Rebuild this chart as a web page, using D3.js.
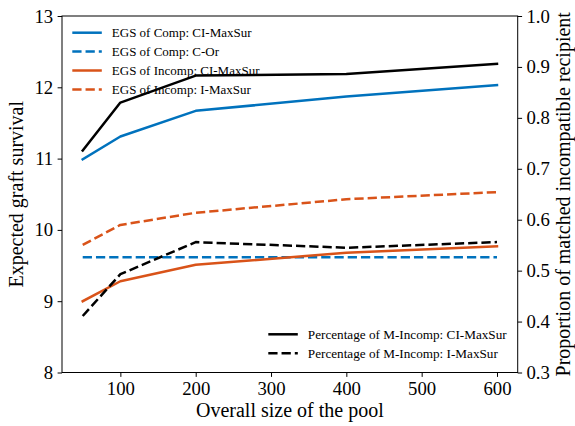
<!DOCTYPE html>
<html>
<head>
<meta charset="utf-8">
<script src="https://cdn.jsdelivr.net/npm/d3@7"></script>
<style>
  html, body { margin: 0; padding: 0; background: #fff; }
  svg { display: block; }
  svg text { font-family: "Liberation Serif", "Times New Roman", serif; }
</style>
</head>
<body>
<svg id="chart" width="575" height="426"></svg>
<script>
// Pool sizes on the x axis
const poolSizes = [50, 100, 200, 400, 600];

// Expected graft survival (left axis)
const egsCompCI = [10.99, 11.31, 11.67, 11.87, 12.03];
const egsCompCOr = [9.615, 9.615, 9.615, 9.615, 9.615];
const egsIncompCI = [9.00, 9.28, 9.51, 9.68, 9.77];
const egsIncompI = [9.79, 10.07, 10.24, 10.43, 10.53];

// Proportion of matched incompatible recipients (right axis)
const pctIncompCI = [0.736, 0.830, 0.883, 0.886, 0.906];
const pctIncompI = [0.411, 0.493, 0.556, 0.545, 0.556];

const xTicks = [100, 200, 300, 400, 500, 600];
const yLeftTicks = [8, 9, 10, 11, 12, 13];
const yRightTicks = [0.3, 0.4, 0.5, 0.6, 0.7, 0.8, 0.9, 1.0];

const BLUE = "#0072BD";
const ORANGE = "#D95319";
const BLACK = "#000000";
const FONT = "Liberation Serif";

const svg = d3.select("#chart");
const m = { left: 62, right: 517.7, top: 16, bottom: 372.5 };

const x = d3.scaleLinear().domain([22.5, 627.5]).range([m.left, m.right]);
const yL = d3.scaleLinear().domain([8, 13]).range([m.bottom, m.top]);
const yR = d3.scaleLinear().domain([0.3, 1.0]).range([m.bottom, m.top]);

const seriesLeft = [
  { name: "EGS of Comp: CI-MaxSur", values: egsCompCI, color: BLUE, dash: null },
  { name: "EGS of Comp: C-Or", values: egsCompCOr, color: BLUE, dash: "9.25,4" },
  { name: "EGS of Incomp: CI-MaxSur", values: egsIncompCI, color: ORANGE, dash: null },
  { name: "EGS of Incomp: I-MaxSur", values: egsIncompI, color: ORANGE, dash: "9.25,4" }
];
const seriesRight = [
  { name: "Percentage of M-Incomp: CI-MaxSur", values: pctIncompCI, color: BLACK, dash: null },
  { name: "Percentage of M-Incomp: I-MaxSur", values: pctIncompI, color: BLACK, dash: "9.25,4" }
];

const LW = 2.5;

function drawLines(series, yScale) {
  const line = d3.line().x((d, i) => x(poolSizes[i])).y(d => yScale(d));
  series.forEach(s => {
    svg.append("path")
      .attr("d", line(s.values))
      .attr("fill", "none")
      .attr("stroke", s.color)
      .attr("stroke-width", LW)
      .attr("stroke-dasharray", s.dash)
      .attr("stroke-linejoin", "round")
      .attr("stroke-linecap", s.dash ? "butt" : "square");
  });
}

function drawLegend(series, x0, y0, rowH, fontSize) {
  series.forEach((s, i) => {
    const yy = y0 + i * rowH;
    svg.append("line")
      .attr("x1", x0).attr("x2", x0 + 29.5)
      .attr("y1", yy).attr("y2", yy)
      .attr("stroke", s.color)
      .attr("stroke-width", LW)
      .attr("stroke-dasharray", s.dash);
    svg.append("text")
      .attr("x", x0 + 39.5).attr("y", yy)
      .attr("dy", "0.35em")
      .attr("font-family", FONT)
      .attr("font-size", fontSize)
      .text(s.name);
  });
}

// Left-axis series and their legend
drawLines(seriesLeft, yL);
drawLegend(seriesLeft, 72.3, 32.7, 18.9, 13);

// Right-axis series are drawn on top
drawLines(seriesRight, yR);
drawLegend(seriesRight, 268.3, 334.3, 19, 13.2);

// Axes
const tickFont = 18.75;
const gx = svg.append("g").attr("transform", `translate(0,${m.bottom})`)
  .call(d3.axisBottom(x).tickValues(xTicks).tickSize(4.4).tickPadding(4.4).tickFormat(d3.format("d")));
const gyl = svg.append("g").attr("transform", `translate(${m.left},0)`)
  .call(d3.axisLeft(yL).tickValues(yLeftTicks).tickSize(4.4).tickPadding(4.4).tickFormat(d3.format("d")));
const gyr = svg.append("g").attr("transform", `translate(${m.right},0)`)
  .call(d3.axisRight(yR).tickValues(yRightTicks).tickSize(4.4).tickPadding(4.4).tickFormat(d3.format(".1f")));

[gx, gyl, gyr].forEach(g => {
  g.attr("font-family", FONT);
  g.select(".domain").remove();
  g.selectAll("line").attr("stroke", "#000").attr("stroke-width", 1);
  g.selectAll("text").attr("font-size", tickFont).attr("font-family", FONT).attr("fill", "#000");
});

// Frame around plot area
svg.append("rect")
  .attr("x", m.left).attr("y", m.top)
  .attr("width", m.right - m.left).attr("height", m.bottom - m.top)
  .attr("fill", "none").attr("stroke", "#000").attr("stroke-width", 1);

// Axis titles
const labelFont = 20;
svg.append("text")
  .attr("x", (m.left + m.right) / 2).attr("y", 417)
  .attr("text-anchor", "middle").attr("font-family", FONT).attr("font-size", labelFont)
  .text("Overall size of the pool");
svg.append("text")
  .attr("transform", `translate(23,${(m.top + m.bottom) / 2}) rotate(-90)`)
  .attr("text-anchor", "middle").attr("font-family", FONT).attr("font-size", labelFont)
  .text("Expected graft survival");
svg.append("text")
  .attr("transform", `translate(555.5,${(m.top + m.bottom) / 2}) rotate(-90)`)
  .attr("text-anchor", "middle").attr("dy", "0.7em").attr("font-family", FONT).attr("font-size", labelFont)
  .text("Proportion of matched incompatible recipient");
</script>
</body>
</html>
